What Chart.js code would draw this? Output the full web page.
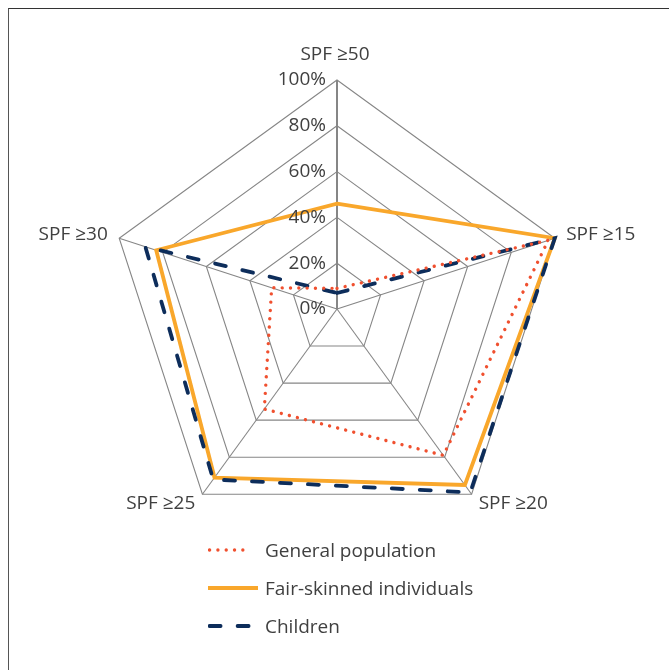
<!DOCTYPE html>
<html>
<head>
<meta charset="utf-8">
<script src="https://cdn.jsdelivr.net/npm/chart.js@4/dist/chart.umd.min.js"></script>
<style>
  html, body { margin: 0; padding: 0; background: #fff; overflow: hidden; }
  body { width: 669px; height: 670px; position: relative; font-family: "Open Sans", "Noto Sans", sans-serif; }
  #frame { position: absolute; left: 8px; top: 8px; width: 800px; height: 800px;
           border-left: 1.5px solid #555; border-top: 1.5px solid #333; box-sizing: border-box; }
  #wrap { position: absolute; left: 0; top: 0; width: 669px; height: 670px; }
  #legend { position: absolute; left: 208px; top: 531px; color: #404040; font-size: 19px; }
  .row { position: relative; height: 38px; display: flex; align-items: center; }
  .row svg { width: 52px; height: 10px; flex: none; }
  .row span { margin-left: 5px; white-space: nowrap; line-height: 1; }
</style>
</head>
<body>
<div id="frame"></div>
<div id="wrap"><canvas id="c" width="669" height="670"></canvas></div>
<div id="legend"></div>
<script>
// Sunscreen SPF use by group (share of respondents)
const categories = ['SPF ≥50', 'SPF ≥15', 'SPF ≥20', 'SPF ≥25', 'SPF ≥30'];
const generalPopulation = [9, 97, 79, 54, 30];
const fairSkinned = [46, 100, 95, 91, 83];
const children = [7, 100, 99, 92, 88];
const tickValues = [0, 20, 40, 60, 80, 100];
const tickLabels = ['0%', '20%', '40%', '60%', '80%', '100%'];
const seriesNames = ['General population', 'Fair-skinned individuals', 'Children'];

const textColor = '#404040';
const fontFamily = '"Open Sans", "Noto Sans", sans-serif';

const series = [
  { label: seriesNames[0], data: generalPopulation, borderColor: '#F0502F',
    borderWidth: 3.4, borderDash: [0.01, 8.3], borderCapStyle: 'round', order: 0 },
  { label: seriesNames[1], data: fairSkinned, borderColor: '#F9A72B',
    borderWidth: 3.8, borderDash: [], borderCapStyle: 'butt', order: 2 },
  { label: seriesNames[2], data: children, borderColor: '#0D2D5B',
    borderWidth: 3.8, borderDash: [11, 17], borderCapStyle: 'round', order: 1 }
];

// Tick labels sit left of the vertical axis; category labels sit just outside the web.
const labelPlugin = {
  id: 'radarText',
  afterDraw(chart) {
    const scale = chart.scales.r;
    const ctx = chart.ctx;
    ctx.save();
    ctx.fillStyle = textColor;
    ctx.font = '19px ' + fontFamily;
    ctx.textBaseline = 'middle';
    ctx.textAlign = 'right';
    tickValues.forEach((v, i) => {
      const p = scale.getPointPositionForValue(0, v);
      ctx.fillText(tickLabels[i], p.x - 11, p.y);
    });
    categories.forEach((name, i) => {
      const outer = scale.getPointPosition(i, scale.drawingArea);
      const dx = outer.x - scale.xCenter;
      if (Math.abs(dx) < 1) {
        const p = scale.getPointPosition(i, scale.drawingArea + 25);
        ctx.textAlign = 'center';
        ctx.fillText(name, p.x - 2, p.y);
      } else {
        const p = scale.getPointPosition(i, scale.drawingArea + 12);
        ctx.textAlign = dx > 0 ? 'left' : 'right';
        ctx.fillText(name, p.x, p.y);
      }
    });
    ctx.restore();
  }
};

new Chart(document.getElementById('c'), {
  type: 'radar',
  data: {
    labels: categories,
    datasets: series.map(s => ({
      label: s.label, data: s.data, order: s.order,
      borderColor: s.borderColor, borderWidth: s.borderWidth,
      borderDash: s.borderDash, borderCapStyle: s.borderCapStyle,
      borderJoinStyle: 'miter', fill: false, pointRadius: 0, tension: 0
    }))
  },
  options: {
    responsive: false,
    animation: false,
    layout: { padding: { left: 108, right: 103, top: 80, bottom: 132 } },
    plugins: { legend: { display: false }, tooltip: { enabled: false } },
    scales: {
      r: {
        min: 0, max: 100,
        ticks: { stepSize: 20, display: false },
        pointLabels: { display: false },
        grid: { color: '#868686', lineWidth: 1.1 },
        angleLines: {
          color: '#868686',
          lineWidth: c => (c.index === 0 ? 2 : 1.1)
        }
      }
    }
  },
  plugins: [labelPlugin]
});

// Legend rows with line samples in each series' stroke style
const legend = document.getElementById('legend');
series.forEach(s => {
  const row = document.createElement('div');
  row.className = 'row';
  const ns = 'http://www.w3.org/2000/svg';
  const svg = document.createElementNS(ns, 'svg');
  const line = document.createElementNS(ns, 'line');
  line.setAttribute('x1', s.borderDash.length ? 1.6 : 0);
  line.setAttribute('x2', s.borderDash.length && s.borderDash[0] < 1 ? 43 : (s.borderDash.length ? 44 : 50));
  line.setAttribute('y1', 5); line.setAttribute('y2', 5);
  line.setAttribute('stroke', s.borderColor);
  line.setAttribute('stroke-width', s.borderWidth);
  line.setAttribute('stroke-linecap', s.borderCapStyle);
  if (s.borderDash.length) line.setAttribute('stroke-dasharray', s.borderDash.join(' '));
  svg.appendChild(line);
  const text = document.createElement('span');
  text.textContent = s.label;
  row.appendChild(svg);
  row.appendChild(text);
  legend.appendChild(row);
});
</script>
</body>
</html>
